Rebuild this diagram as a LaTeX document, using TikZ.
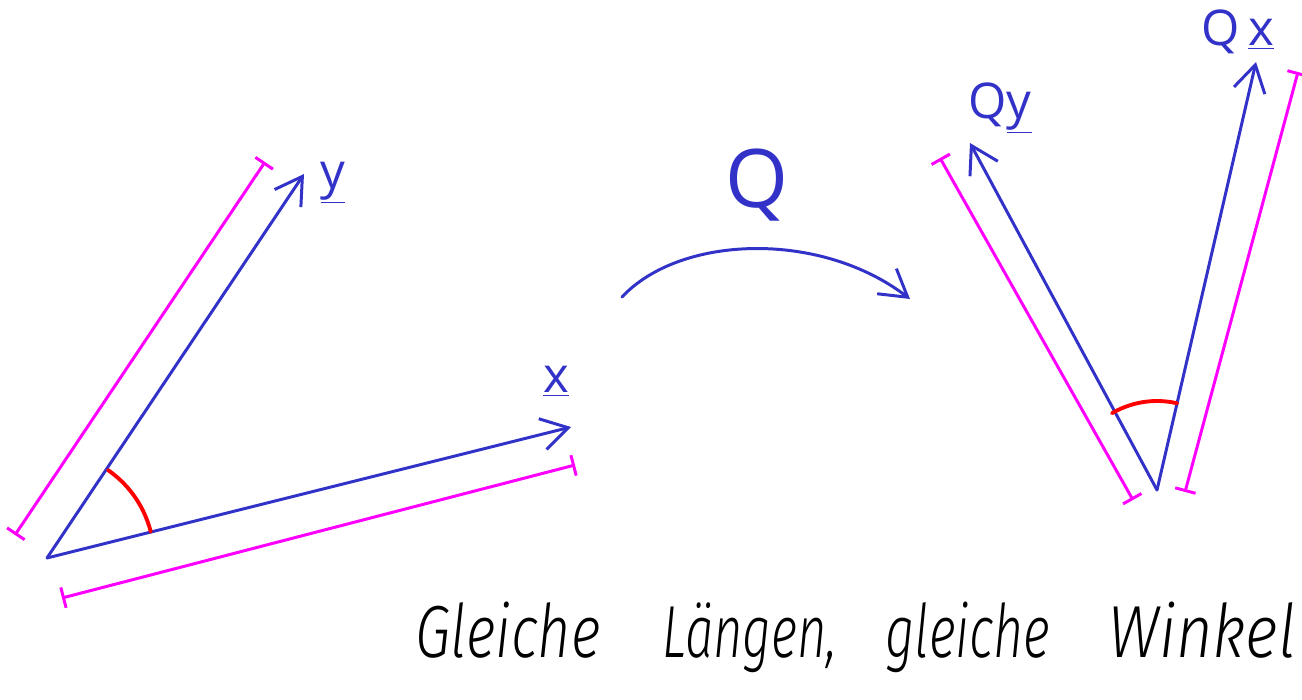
\documentclass[tikz,border=0pt]{standalone}
\usepackage{fontspec}
\setmainfont{Open Sans}
\IfFontExistsTF{Fira Sans Light}
  {\newfontfamily\handfont{Fira Sans Light}}
  {\IfFontExistsTF{Lato Light}
     {\newfontfamily\handfont{Lato Light}}
     {\IfFontExistsTF{Open Sans Light}
        {\newfontfamily\handfont{Open Sans Light}}
        {\newfontfamily\handfont{Open Sans}}}}
\usetikzlibrary{arrows.meta}
\definecolor{vblue}{RGB}{50,50,200}
\definecolor{vmag}{RGB}{255,0,255}
\definecolor{vred}{RGB}{255,0,0}
\tikzset{
  vec/.style={draw=vblue, line width=1.7pt, line cap=round, -{Straight Barb[length=15pt,width=18pt]}},
  meas/.style={draw=vmag, line width=1.7pt, {Bar[width=12pt]}-{Bar[width=12pt]}},
  angarc/.style={draw=vred, line width=2.2pt, line cap=round},
  lab/.style={text=vblue, inner sep=0pt, font=\fontsize{28}{28}\selectfont},
  bigq/.style={text=vblue, inner sep=0pt, font=\fontsize{46}{46}\selectfont},
  hand/.style={inner sep=0pt, anchor=base west, font=\handfont\itshape\fontsize{42}{42}\selectfont}
}
\begin{document}
\begin{tikzpicture}[x=0.02cm, y=-0.02cm]
\useasboundingbox (0,0) rectangle (1302,700);
% left vectors
\coordinate (O) at (47,558);
\coordinate (ytip) at (304,174);
\coordinate (xtip) at (571,427);
\draw[vec] (O) -- (ytip);
\draw[vec] (O) -- (xtip);
\draw[angarc] plot[domain=-55.3:-14.2, samples=30] ({47+107*cos(\x)},{558+107*sin(\x)});
\coordinate (my1) at (15,535);
\coordinate (my2) at (265,162);
\draw[meas] (my1) -- (my2);
\coordinate (mx1) at (62,598);
\coordinate (mx2) at (575,465);
\draw[meas] (mx1) -- (mx2);
\node[lab] (ylab) at (333,183) {\underline{y}};
\node[lab] (xlab) at (556,381) {\underline{x}};
% middle map arrow
\coordinate (q1) at (622,297);
\coordinate (q2) at (910,299);
\draw[vec] (q1) .. controls (680,235) and (820,230) .. (q2);
\node[bigq] (Q) at (757,185) {Q};
% right vectors
\coordinate (B) at (1157,490);
\coordinate (qytip) at (970,143);
\coordinate (qxtip) at (1256,62);
\draw[vec] (B) -- (qytip);
\draw[vec] (B) -- (qxtip);
\draw[angarc] plot[domain=-120.4:-76.9, samples=30] ({1157+89*cos(\x)},{490+89*sin(\x)});
\coordinate (mqy1) at (940,158);
\coordinate (mqy2) at (1133,500);
\draw[meas] (mqy1) -- (mqy2);
\coordinate (mqx1) at (1298,72);
\coordinate (mqx2) at (1185,492);
\draw[meas] (mqx1) -- (mqx2);
\node[lab] (qylab) at (1000,108) {Q\underline{y}};
\node[lab] (qxlab) at (1238,32) {Q\,\underline{x}};
% bottom text
\node[hand] (w1) at (415,657) {\resizebox{3.7cm}{\height}{Gleiche}};
\node[hand] (w2) at (662,657) {\resizebox{3.5cm}{\height}{Längen,}};
\node[hand] (w3) at (885,657) {\resizebox{3.3cm}{\height}{gleiche}};
\node[hand] (w4) at (1108,657) {\resizebox{3.75cm}{\height}{Winkel}};
\end{tikzpicture}
\end{document}
